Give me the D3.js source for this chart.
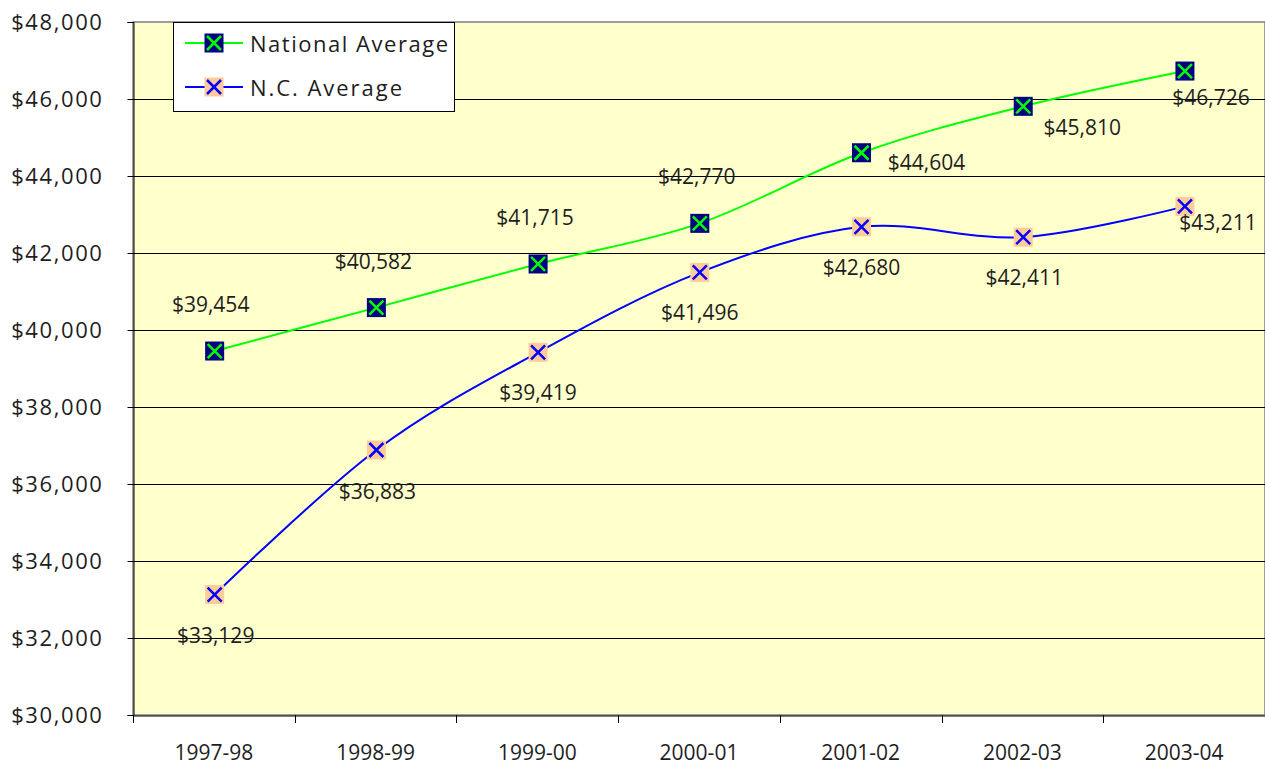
<!DOCTYPE html>
<html><head><meta charset="utf-8">
<script src="https://cdn.jsdelivr.net/npm/d3@7"></script>
<style>body{margin:0;background:#fff}svg text{font-family:"Open Sans",sans-serif;fill:#1e1e1e}</style>
</head><body><svg id="c" width="1265" height="769"></svg>
<script>
const categories = ["1997-98","1998-99","1999-00","2000-01","2001-02","2002-03","2003-04"];
const nationalAvg = [39454, 40582, 41715, 42770, 44604, 45810, 46726];
const ncAvg = [33129, 36883, 39419, 41496, 42680, 42411, 43211];
const yTicks = [30000,32000,34000,36000,38000,40000,42000,44000,46000,48000];
const seriesNames = ["National Average","N.C. Average"];
// label offsets (layout, px) relative to markers
const natLabelOff = [[-4,-47],[-3,-47],[-3,-47],[-3,-47],[65,9],[59,21],[26,26]];
const ncLabelOff = [[1,40],[1,41],[0,40],[0,40],[0,40],[1,40],[33,16]];

const svg = d3.select("#c");
const M = {l:133, r:1265, t:22, b:715};
const x = d3.scaleBand().domain(categories).range([M.l, M.r]).padding(0);
const y = d3.scaleLinear().domain([30000,48000]).range([M.b, M.t]);
const cx = c => x(c) + x.bandwidth()/2 + 0.8;

svg.append("rect").attr("x",M.l).attr("y",M.t).attr("width",M.r-M.l).attr("height",M.b-M.t)
  .attr("fill","#ffffcc").attr("stroke","#808080").attr("stroke-width",1.5);

// gridlines
svg.append("g").selectAll("line").data(yTicks.slice(1,-1)).join("line")
  .attr("x1",M.l).attr("x2",M.r).attr("y1",d=>Math.round(y(d))+0.5).attr("y2",d=>Math.round(y(d))+0.5)
  .attr("stroke","#000").attr("stroke-width",1);

// y axis
const yAxis = svg.append("g").attr("transform",`translate(${M.l+0.5},0)`)
  .call(d3.axisLeft(y).tickValues(yTicks).tickSize(6).tickPadding(24).tickFormat(d=>"$"+d3.format(",")(d)));
yAxis.select(".domain").attr("stroke","#000");
yAxis.selectAll(".tick line").attr("stroke","#000");
yAxis.selectAll("text").attr("font-size",22).attr("letter-spacing",1.6).attr("fill","#1e1e1e").attr("font-family","Open Sans");

// x axis
const xAxis = svg.append("g").attr("transform",`translate(0,${M.b+0.5})`)
  .call(d3.axisBottom(x).tickSize(0).tickPadding(30));
xAxis.select(".domain").attr("stroke","#000");
xAxis.selectAll("text").attr("font-size",21).attr("fill","#1e1e1e").attr("font-family","Open Sans");
svg.append("g").selectAll("line").data(categories.concat([null])).join("line")
  .attr("x1",(d,i)=>Math.round(i<categories.length? x(d) : M.r)+0.5)
  .attr("x2",(d,i)=>Math.round(i<categories.length? x(d) : M.r)+0.5)
  .attr("y1",M.b).attr("y2",M.b+8).attr("stroke","#000");

const line = d3.line().x((d,i)=>cx(categories[i])).y(d=>y(d)).curve(d3.curveCatmullRom.alpha(0));

function drawSeries(vals, color, sqFill, xColor, offs){
  const g = svg.append("g");
  g.append("path").datum(vals).attr("d",line).attr("fill","none").attr("stroke",color).attr("stroke-width",2);
  const m = g.selectAll("g.m").data(vals).join("g").attr("transform",(d,i)=>`translate(${cx(categories[i])},${y(d)})`);
  marker(m, sqFill, xColor);
  g.selectAll("text").data(vals).join("text")
    .attr("x",(d,i)=>cx(categories[i])+offs[i][0]).attr("y",(d,i)=>y(d)+offs[i][1])
    .attr("text-anchor","middle").attr("dominant-baseline","central").attr("font-size",21)
    .text(d=>"$"+d3.format(",")(d));
}
function marker(sel, sqFill, xColor){
  sel.append("rect").attr("x",-9.5).attr("y",-9.5).attr("width",19).attr("height",19).attr("fill",sqFill);
  sel.append("path").attr("d","M-7,-7L7,7M7,-7L-7,7").attr("stroke",xColor).attr("stroke-width",2.5).attr("fill","none");
}
drawSeries(nationalAvg, "#00ff00", "#000080", "#00ff00", natLabelOff);
drawSeries(ncAvg, "#0000ff", "#ffcc99", "#0000ff", ncLabelOff);

// legend
const lg = svg.append("g");
lg.append("rect").attr("x",173.5).attr("y",22.5).attr("width",281).attr("height",89).attr("fill","#fff").attr("stroke","#000");
const items = [[seriesNames[0],"#00ff00","#000080","#00ff00",43,198],[seriesNames[1],"#0000ff","#ffcc99","#0000ff",87,152]];
items.forEach(it=>{
  lg.append("line").attr("x1",185).attr("x2",243).attr("y1",it[4]).attr("y2",it[4]).attr("stroke",it[1]).attr("stroke-width",2);
  marker(lg.append("g").attr("transform",`translate(214,${it[4]})`), it[2], it[3]);
  lg.append("text").attr("x",250).attr("y",it[4]).attr("dominant-baseline","central").attr("font-size",22)
    .attr("textLength",it[5]).attr("lengthAdjust","spacing").text(it[0]);
});
</script></body></html>
